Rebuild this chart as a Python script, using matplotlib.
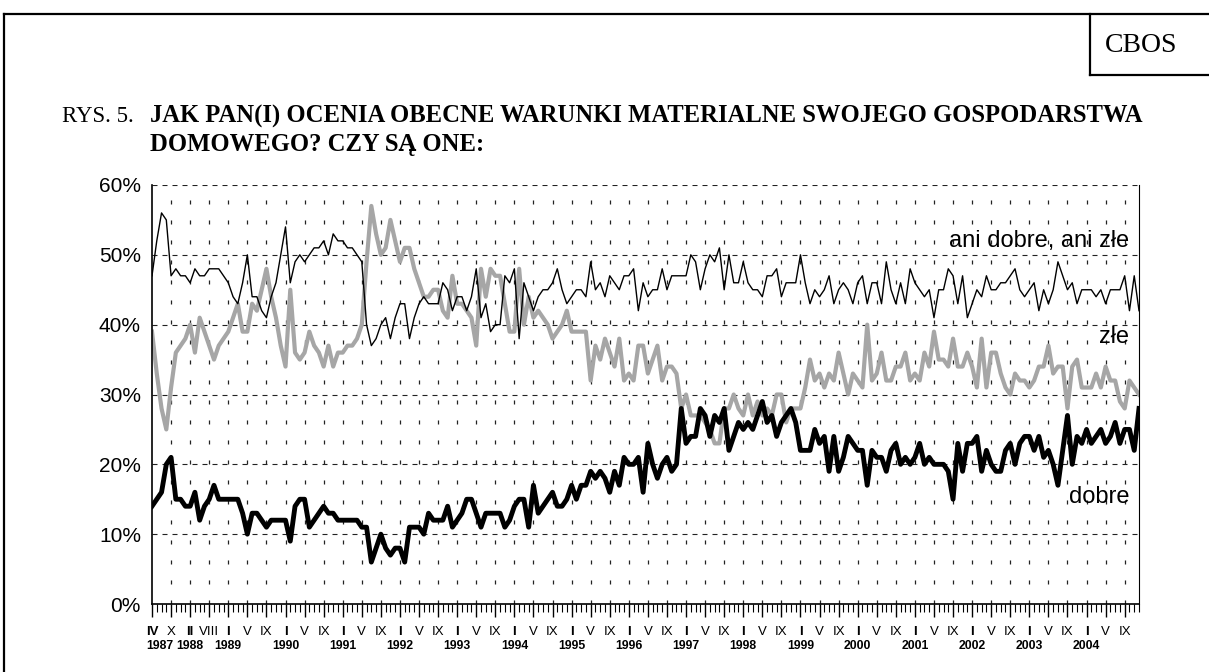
import numpy as np
import matplotlib
matplotlib.use("Agg")
import matplotlib.pyplot as plt
from matplotlib import transforms
from matplotlib.lines import Line2D

# oceny warunków materialnych gospodarstwa domowego (%), kolejne badania IV 1987 - 2004
ani_dobre_ani_zle = [
    47, 52, 56, 55, 47, 48, 47, 47, 46, 48, 47, 47, 48, 48, 48, 47, 46, 44, 43, 46,
    50, 44, 44, 42, 41, 44, 46, 50, 54, 46, 49, 50, 49, 50, 51, 51, 52, 50, 53, 52,
    52, 51, 51, 50, 49, 40, 37, 38, 40, 41, 38, 41, 43, 43, 38, 41, 43, 44, 43, 43,
    43, 46, 45, 42, 44, 44, 42, 44, 48, 41, 43, 39, 40, 40, 47, 46, 48, 38, 46, 44,
    42, 44, 45, 45, 46, 48, 45, 43, 44, 45, 45, 44, 49, 45, 46, 44, 47, 46, 45, 47,
    47, 48, 42, 46, 44, 45, 45, 48, 45, 47, 47, 47, 47, 50, 49, 45, 48, 50, 49, 51,
    45, 50, 46, 46, 49, 46, 45, 45, 44, 47, 47, 48, 44, 46, 46, 46, 50, 46, 43, 45,
    44, 45, 47, 43, 45, 46, 45, 43, 46, 47, 43, 46, 46, 43, 49, 45, 43, 46, 43, 48,
    46, 45, 44, 45, 41, 45, 45, 48, 47, 43, 47, 41, 43, 45, 44, 47, 45, 45, 46, 46,
    47, 48, 45, 44, 45, 46, 42, 45, 43, 45, 49, 47, 45, 46, 43, 45, 45, 45, 44, 45,
    43, 45, 45, 45, 47, 42, 47, 42,
]
zle = [
    39, 33, 28, 25, 31, 36, 37, 38, 40, 36, 41, 39, 37, 35, 37, 38, 39, 41, 43, 39,
    39, 43, 42, 45, 48, 44, 41, 37, 34, 45, 36, 35, 36, 39, 37, 36, 34, 37, 34, 36,
    36, 37, 37, 38, 40, 49, 57, 53, 50, 51, 55, 52, 49, 51, 51, 48, 46, 44, 44, 45,
    45, 42, 41, 47, 43, 43, 42, 41, 37, 48, 44, 48, 47, 47, 43, 39, 39, 48, 40, 44,
    41, 42, 41, 40, 38, 39, 40, 42, 39, 39, 39, 39, 32, 37, 35, 38, 36, 34, 38, 32,
    33, 32, 37, 37, 33, 35, 37, 32, 34, 34, 33, 28, 30, 27, 27, 27, 26, 25, 23, 23,
    28, 28, 30, 28, 27, 30, 27, 29, 27, 28, 27, 30, 30, 26, 28, 28, 28, 31, 35, 32,
    33, 31, 33, 32, 36, 33, 30, 33, 32, 31, 40, 32, 33, 36, 32, 32, 34, 34, 36, 32,
    33, 32, 36, 34, 39, 35, 35, 34, 38, 34, 34, 36, 34, 31, 38, 31, 36, 36, 33, 31,
    30, 33, 32, 32, 31, 32, 34, 34, 37, 33, 34, 34, 28, 34, 35, 31, 31, 31, 33, 31,
    34, 32, 32, 29, 28, 32, 31, 30,
]
dobre = [
    14, 15, 16, 20, 21, 15, 15, 14, 14, 16, 12, 14, 15, 17, 15, 15, 15, 15, 15, 13,
    10, 13, 13, 12, 11, 12, 12, 12, 12, 9, 14, 15, 15, 11, 12, 13, 14, 13, 13, 12,
    12, 12, 12, 12, 11, 11, 6, 8, 10, 8, 7, 8, 8, 6, 11, 11, 11, 10, 13, 12,
    12, 12, 14, 11, 12, 13, 15, 15, 13, 11, 13, 13, 13, 13, 11, 12, 14, 15, 15, 11,
    17, 13, 14, 15, 16, 14, 14, 15, 17, 15, 17, 17, 19, 18, 19, 18, 16, 19, 17, 21,
    20, 20, 21, 16, 23, 20, 18, 20, 21, 19, 20, 28, 23, 24, 24, 28, 27, 24, 27, 26,
    28, 22, 24, 26, 25, 26, 25, 27, 29, 26, 27, 24, 26, 27, 28, 26, 22, 22, 22, 25,
    23, 24, 19, 24, 19, 21, 24, 23, 22, 22, 17, 22, 21, 21, 19, 22, 23, 20, 21, 20,
    21, 23, 20, 21, 20, 20, 20, 19, 15, 23, 19, 23, 23, 24, 19, 22, 20, 19, 19, 22,
    23, 20, 23, 24, 24, 22, 24, 21, 22, 20, 17, 22, 27, 20, 24, 23, 25, 23, 24, 25,
    23, 24, 26, 23, 25, 25, 22, 28,
]

# podpisy osi X (co 4 badania)
miesiace = ["IV", "X", "II", "VIII", "I", "V", "IX",
            "I", "V", "IX", "I", "V", "IX", "I", "V", "IX", "I", "V", "IX",
            "I", "V", "IX", "I", "V", "IX", "I", "V", "IX", "I", "V", "IX",
            "I", "V", "IX", "I", "V", "IX", "I", "V", "IX", "I", "V", "IX",
            "I", "V", "IX", "I", "V", "IX", "I", "V", "IX"]
lata = ["1987", "", "1988", "", "1989", "", "",
        "1990", "", "", "1991", "", "", "1992", "", "", "1993", "", "",
        "1994", "", "", "1995", "", "", "1996", "", "", "1997", "", "",
        "1998", "", "", "1999", "", "", "2000", "", "", "2001", "", "",
        "2002", "", "", "2003", "", "", "2004", "", ""]

plt.rcParams['lines.scale_dashes'] = False
sans = ['Liberation Sans', 'DejaVu Sans']
serif = ['Liberation Serif', 'DejaVu Serif']

W, H = 1209, 672
fig = plt.figure(figsize=(W / 100, H / 100), dpi=100)

def fx(px):
    return px / W

def fy(py):
    return 1 - py / H

# ramka strony i pole CBOS
lw_frame = 1.6
fig.add_artist(Line2D([fx(4), 1], [fy(14), fy(14)], color="black", lw=lw_frame))
fig.add_artist(Line2D([fx(4), fx(4)], [fy(14), 0], color="black", lw=lw_frame))
fig.add_artist(Line2D([fx(1090), fx(1090)], [fy(14), fy(75)], color="black", lw=lw_frame))
fig.add_artist(Line2D([fx(1090), 1], [fy(75), fy(75)], color="black", lw=lw_frame))
fig.text(fx(1141), fy(45), "CBOS", family=serif, fontsize=20, ha="center", va="center")

# tytuł
fig.text(fx(62), fy(116), "RYS. 5.", family=serif, fontsize=16.5, ha="left", va="center")
fig.text(fx(150), fy(116), "JAK PAN(I) OCENIA OBECNE WARUNKI MATERIALNE SWOJEGO GOSPODARSTWA",
         family=serif, fontsize=17.7, fontweight="bold", ha="left", va="center")
fig.text(fx(150), fy(145), "DOMOWEGO? CZY SĄ ONE:",
         family=serif, fontsize=17.7, fontweight="bold", ha="left", va="center")

ax = fig.add_axes([fx(152), fy(604), fx(1139) - fx(152), fy(185) - fy(604)])
x = np.arange(len(dobre))

# siatka
for v in range(10, 61, 10):
    ax.axhline(v, color="#222222", lw=0.8, ls=(0, (3.6, 3.6)), zorder=1)
for xi in range(4, len(dobre), 4):
    ax.axvline(xi, color="#222222", lw=0.9, ls=(0, (2.9, 11.5)), zorder=1)

ax.plot(x, zle, color="#a6a6a6", lw=3.0, zorder=2)
ax.plot(x, ani_dobre_ani_zle, color="black", lw=1.0, zorder=3)
ax.plot(x, dobre, color="black", lw=3.5, zorder=4)

ax.set_xlim(0, len(dobre) - 1)
ax.set_ylim(0, 60)

ax.set_yticks(range(0, 61, 10))
ax.set_yticklabels([f"{v}%" for v in range(0, 61, 10)], family=sans, fontsize=15)
ax.tick_params(axis="y", length=0, pad=8)

ax.set_xticks(range(0, len(dobre), 4))
ax.set_xticks(range(0, len(dobre)), minor=True)
ax.set_xticklabels([])
ax.tick_params(axis="x", which="major", length=9.5, width=1.0, direction="out")
ax.tick_params(axis="x", which="minor", length=5.5, width=0.8, direction="out")

ax.spines["top"].set_visible(False)
ax.spines["right"].set_linewidth(0.8)
ax.spines["left"].set_linewidth(1.2)
ax.spines["bottom"].set_linewidth(1.2)

# podpisy miesięcy i lat
tr = transforms.blended_transform_factory(ax.transData, fig.transFigure)
for k, (m, r) in enumerate(zip(miesiace, lata)):
    pos = 4 * k
    ax.text(pos, fy(632), m, transform=tr, family=sans, fontsize=9.5,
            fontweight="bold" if r else "normal", ha="center", va="center")
    if r:
        if k == 0:
            ax.text(pos - 1.3, fy(646), r, transform=tr, family=sans, fontsize=8.8,
                    fontweight="bold", ha="left", va="center")
        else:
            ax.text(pos, fy(646), r, transform=tr, family=sans, fontsize=8.8,
                    fontweight="bold", ha="center", va="center")

# podpisy serii
ax.text(205, 52, "ani dobre, ani złe", family=sans, fontsize=17, ha="right", va="center")
ax.text(205, 38.3, "złe", family=sans, fontsize=17, ha="right", va="center")
ax.text(205, 15.3, "dobre", family=sans, fontsize=17, ha="right", va="center")

fig.savefig("out.png", dpi=100)
